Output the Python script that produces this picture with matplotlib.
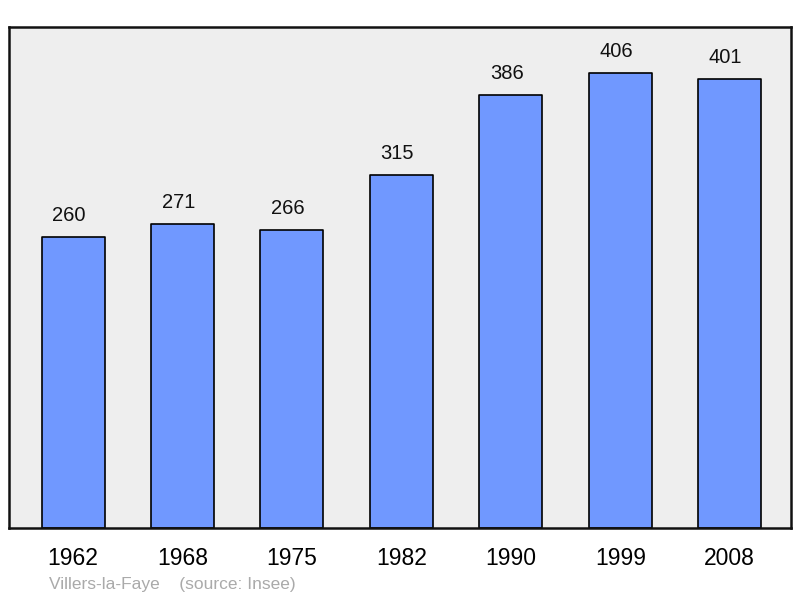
import matplotlib
matplotlib.use("Agg")
from matplotlib import pyplot as plt

years = ["1962", "1968", "1975", "1982", "1990", "1999", "2008"]
population = [260, 271, 266, 315, 386, 406, 401]
commune = "Villers-la-Faye"
source = "(source: Insee)"

plt.rcParams['font.family'] = ['Liberation Sans', 'DejaVu Sans']

fig = plt.figure(figsize=(8, 5.98), dpi=100)
ax = fig.add_axes([9 / 800, 70 / 598, 782 / 800, 501 / 598])
ax.set_facecolor("#eeeeee")

x = range(len(years))
bars = ax.bar(x, population, width=0.576, color="#7098ff",
              edgecolor="black", linewidth=1.2, joinstyle="round")
for xi, v in zip(x, population):
    ax.annotate(str(v), (xi, v), xytext=(-3, 15.5), textcoords="offset points",
                ha="center", va="center", fontsize=14.5, color="#111111")

ax.set_xlim(-0.585, 6.56)
ax.set_ylim(0, 447)
ax.set_xticks(list(x))
ax.set_xticklabels(years, fontsize=16.5)
ax.tick_params(axis="x", length=0, pad=14)
ax.set_yticks([])
for s in ax.spines.values():
    s.set_linewidth(1.8)
    s.set_color("#111111")

fig.text(49 / 800, 1 - 584 / 598, commune + "    " + source,
         fontsize=12.5, color="#aaaaaa", ha="left", va="center")

fig.savefig("out.png", dpi=100)
